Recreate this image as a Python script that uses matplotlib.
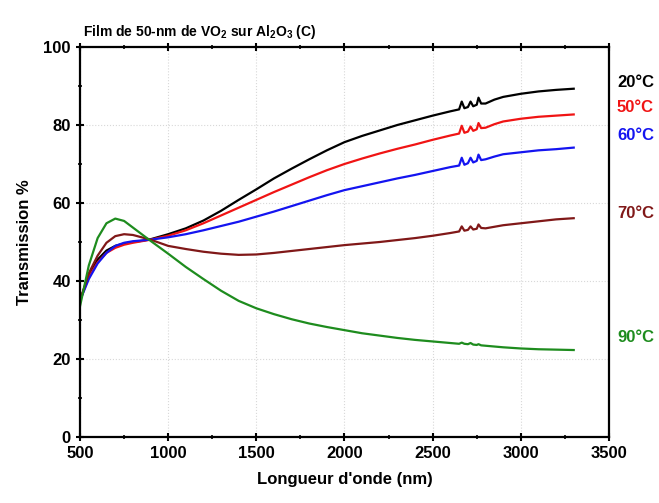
"""VO2 film on Al2O3: transmission vs wavelength at several temperatures."""

import matplotlib

matplotlib.use("Agg")
import matplotlib.pyplot as plt
import matplotlib.transforms as mtransforms

# wavelength grid (nm)
wavelength = [500, 550, 600, 650, 700, 750, 800, 850, 900, 1000, 1100, 1200,
              1300, 1400, 1500, 1600, 1700, 1800, 1900, 2000, 2100, 2200,
              2300, 2400, 2500, 2600, 2650, 2665, 2680, 2700, 2715, 2730,
              2750, 2760, 2775, 2800, 2850, 2900, 3000, 3100, 3200, 3300]

t20 = [35, 41.5, 45.5, 47.8, 49, 49.6, 50, 50.3, 50.7, 52, 53.5, 55.5,
       58, 60.8, 63.5, 66.3, 68.8, 71.2, 73.5, 75.6, 77.2, 78.6,
       80, 81.2, 82.4, 83.5, 84, 86, 84.3, 84.6, 86, 84.8,
       85.2, 87, 85.5, 85.5, 86.5, 87.2, 88, 88.6, 89, 89.3]

t50 = [35, 41, 44.8, 47.2, 48.5, 49.3, 49.8, 50.2, 50.6, 51.6, 53, 54.8,
       56.8, 58.8, 60.8, 62.8, 64.7, 66.6, 68.4, 70, 71.4, 72.7,
       73.9, 75, 76.2, 77.3, 77.8, 79.8, 78, 78.3, 79.6, 78.5,
       78.9, 80.5, 79.2, 79.3, 80.2, 80.9, 81.6, 82.1, 82.4, 82.7]

t60 = [35, 40.5, 44.5, 47.2, 49, 49.8, 50.2, 50.4, 50.6, 51.2, 52, 53,
       54.1, 55.2, 56.5, 57.8, 59.2, 60.6, 62, 63.3, 64.3, 65.3,
       66.3, 67.2, 68.2, 69.2, 69.6, 71.6, 69.8, 70.2, 71.6, 70.4,
       70.8, 72.4, 71, 71.2, 71.9, 72.5, 73, 73.5, 73.8, 74.2]

t70 = [35, 42, 46.5, 49.8, 51.5, 52, 51.8, 51.2, 50.6, 49, 48.2, 47.5,
       47, 46.7, 46.8, 47.2, 47.7, 48.2, 48.7, 49.2, 49.6, 50,
       50.5, 51, 51.6, 52.3, 52.7, 54, 52.9, 53.1, 54, 53.2,
       53.4, 54.5, 53.6, 53.5, 53.9, 54.3, 54.8, 55.3, 55.8, 56.1]

t90 = [33.5, 44, 51, 54.8, 56, 55.4, 53.7, 52, 50.3, 47, 43.6, 40.5,
       37.5, 34.9, 33, 31.5, 30.2, 29.1, 28.2, 27.4, 26.6, 26,
       25.4, 24.9, 24.5, 24.1, 23.9, 24.2, 23.9, 23.8, 24.1, 23.7,
       23.6, 23.8, 23.5, 23.4, 23.2, 23, 22.7, 22.5, 22.4, 22.3]

temp_labels = ["20°C", "50°C", "60°C", "70°C", "90°C"]
x_ticks = [500, 1000, 1500, 2000, 2500, 3000, 3500]
y_ticks = [0, 20, 40, 60, 80, 100]

plt.rcParams["font.family"] = ["Liberation Sans", "DejaVu Sans"]
plt.rcParams["font.weight"] = "bold"
plt.rcParams["mathtext.default"] = "regular"

series = [t20, t50, t60, t70, t90]
colors = ["#000000", "#f01414", "#1414f0", "#801818", "#1e8c1e"]
label_y = [90.8, 84.4, 77.2, 57.4, 25.6]

fig = plt.figure(figsize=(6.59, 5.03), dpi=100)
ax = fig.add_axes([0.1214, 0.1312, 0.8027, 0.7754])

for vals, c in zip(series, colors):
    ax.plot(wavelength, vals, color=c, lw=1.6, solid_joinstyle="round")

ax.set_xlim(500, 3500)
ax.set_ylim(0, 100)
ax.set_xticks(x_ticks)
ax.set_yticks(y_ticks)
ax.set_xticks(range(750, 3500, 500), minor=True)
ax.set_yticks(range(10, 100, 20), minor=True)
ax.grid(True, which="major", color="#d8d8d8", ls=":", lw=0.8)
ax.tick_params(axis="both", which="major", labelsize=12, width=1.5, length=6,
               direction="out")
ax.tick_params(axis="both", which="minor", width=1.2, length=3, direction="out")
ax.tick_params(top=True, which="both", direction="inout")
for s in ax.spines.values():
    s.set_linewidth(1.6)

ax.set_xlabel("Longueur d'onde (nm)", fontsize=12, fontweight="bold", labelpad=8)
ax.set_ylabel("Transmission %", fontsize=12, fontweight="bold", labelpad=8)
ax.set_title("Film de 50-nm de VO$_2$ sur Al$_2$O$_3$ (C)", fontsize=10,
             fontweight="bold", loc="left", pad=8, x=0.005)

trans = mtransforms.blended_transform_factory(ax.transAxes, ax.transData)
for lab, y, c in zip(temp_labels, label_y, colors):
    ax.text(1.015, y, lab, color=c, fontsize=12, fontweight="bold",
            transform=trans, va="center", ha="left")

fig.savefig("out.png", dpi=100)
